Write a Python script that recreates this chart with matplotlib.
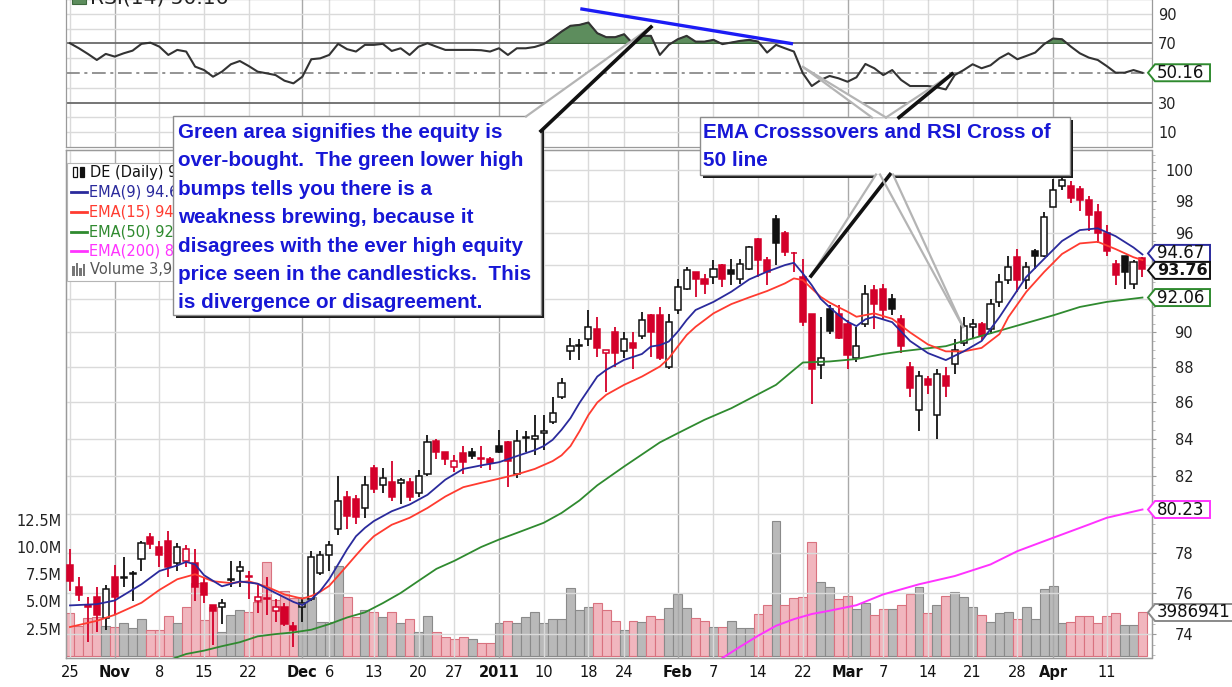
import numpy as np
import matplotlib
matplotlib.use("Agg")
import matplotlib.pyplot as plt
from matplotlib.patches import Rectangle, Polygon
from matplotlib.lines import Line2D
from matplotlib.transforms import Bbox, TransformedBbox
from matplotlib.ticker import FixedLocator, FixedFormatter, NullFormatter

"""
Deere & Co (DE) daily candlesticks with EMA overlays, volume and RSI(14),
annotated with two call-out boxes, redrawn from a StockCharts screenshot.
"""

# =============================================================================
# Data (trading days 25 Oct 2010 .. 15 Apr 2011, index 0 = 25 Oct)
# =============================================================================

TICK_IDX = [0, 5, 10, 15, 20, 26, 29, 34, 39, 43, 48, 53, 58, 62, 68,
            72, 77, 82, 87, 91, 96, 101, 106, 110, 116]
TICK_LABELS = ["25", "Nov", "8", "15", "22", "Dec", "6", "13", "20", "27",
               "2011", "10", "18", "24", "Feb", "7", "14", "22", "Mar", "7",
               "14", "21", "28", "Apr", "11"]
BOLD_LABELS = {"Nov", "Dec", "2011", "Feb", "Mar", "Apr"}

OPEN = [77.4, 76.3, 75.4, 75.8, 74.8, 76.8, 76.75, 76.95, 77.7, 78.8,
        78.3, 78.6, 77.5, 77.6, 77.5, 76.5, 75.4, 75.3, 76.65, 77.1,
        76.85, 75.6, 75.75, 75.1, 75.3, 74.4, 75.3, 75.7, 77.0, 77.9,
        79.2, 80.9, 80.8, 80.3, 82.4, 81.5, 81.7, 81.6, 81.7, 81.1,
        82.1, 83.9, 83.3, 82.5, 83.2, 83.3, 82.95, 82.9, 83.6, 83.8,
        82.1, 84.05, 84.0, 84.3, 84.9, 86.3, 88.9, 89.2, 89.6, 90.2,
        88.8, 90.0, 88.9, 89.4, 89.8, 91.0, 91.0, 88.0, 91.3, 92.6,
        93.6, 93.2, 93.3, 94.0, 93.7, 93.2, 93.8, 95.6, 94.3, 96.9,
        96.0, 94.76, 93.3, 91.1, 88.1, 91.4, 91.1, 90.5, 88.5, 90.5,
        92.5, 92.6, 92.0, 90.8, 88.0, 85.6, 87.3, 85.3, 87.5, 88.2,
        89.4, 90.3, 90.5, 90.2, 91.8, 93.1, 94.5, 93.1, 94.9, 94.6,
        97.6, 99.0, 98.98, 98.8, 98.1, 97.3, 96.0, 94.1, 94.6, 92.9, 94.45]

HIGH = [78.2, 76.8, 75.8, 76.3, 76.4, 77.4, 77.8, 77.1, 78.6, 79.0,
        78.6, 79.1, 78.5, 78.4, 78.2, 76.8, 75.4, 75.7, 77.6, 77.6,
        77.1, 76.4, 76.8, 75.7, 75.5, 74.6, 75.7, 78.1, 78.1, 78.6,
        82.0, 81.2, 81.0, 82.0, 82.6, 82.4, 82.8, 81.9, 81.9, 82.3,
        84.2, 84.0, 83.3, 83.1, 83.6, 83.5, 83.6, 83.0, 84.5, 83.9,
        84.5, 84.4, 85.3, 85.3, 86.3, 87.4, 89.7, 89.6, 91.3, 90.9,
        89.0, 90.3, 90.0, 90.0, 91.2, 91.1, 91.5, 91.1, 93.2, 93.9,
        93.6, 93.5, 94.3, 94.1, 94.4, 94.4, 95.2, 95.7, 94.5, 97.1,
        96.1, 94.8, 94.4, 91.1, 90.9, 91.6, 91.6, 90.7, 90.3, 92.8,
        92.8, 92.9, 92.3, 91.0, 88.3, 87.8, 87.5, 87.9, 88.0, 89.6,
        90.9, 90.8, 90.6, 92.0, 93.5, 94.6, 95.0, 94.2, 95.0, 97.3,
        99.4, 99.6, 99.3, 99.0, 98.3, 97.8, 96.5, 94.3, 94.6, 94.3, 94.5]

LOW = [76.1, 75.6, 73.6, 74.1, 74.2, 74.9, 76.3, 75.6, 77.1, 78.2,
       77.3, 76.8, 77.1, 77.3, 75.6, 75.5, 73.5, 74.5, 76.3, 76.3,
       75.7, 75.0, 74.9, 74.6, 74.4, 73.4, 74.6, 75.6, 76.9, 77.1,
       78.9, 79.2, 79.5, 79.8, 81.1, 81.1, 80.7, 80.5, 80.7, 80.9,
       82.0, 82.9, 82.6, 82.2, 82.1, 82.9, 82.4, 82.3, 83.2, 81.4,
       81.9, 83.3, 83.1, 83.4, 84.8, 86.2, 88.4, 88.4, 89.2, 88.6,
       86.6, 88.0, 88.5, 87.9, 89.6, 88.6, 88.4, 87.9, 91.1, 92.5,
       92.1, 92.3, 92.9, 92.7, 92.8, 92.9, 93.7, 93.3, 92.8, 94.0,
       94.6, 93.6, 90.4, 85.9, 87.3, 89.9, 89.6, 87.9, 88.3, 90.3,
       90.2, 90.8, 91.0, 88.8, 86.3, 84.4, 86.5, 84.0, 86.3, 87.6,
       89.2, 89.7, 89.5, 89.9, 91.5, 92.9, 92.4, 92.6, 93.8, 94.5,
       97.6, 98.7, 97.9, 97.4, 96.1, 95.4, 94.6, 92.8, 92.6, 92.6, 93.3]

CLOSE = [76.6, 75.9, 75.3, 74.9, 76.2, 75.8, 76.8, 77.0, 78.5, 78.45,
         77.9, 77.3, 78.3, 78.2, 76.3, 75.9, 75.1, 75.5, 76.7, 77.3,
         76.8, 75.8, 75.7, 75.3, 74.5, 74.2, 75.5, 77.8, 77.9, 78.4,
         80.7, 79.9, 79.85, 81.5, 81.3, 81.9, 80.9, 81.8, 80.9, 82.0,
         83.8, 83.3, 82.9, 82.8, 82.75, 83.05, 82.9, 82.7, 83.3, 82.8,
         83.9, 84.1, 84.15, 84.4, 85.4, 87.1, 89.2, 89.25, 90.3, 89.1,
         89.0, 88.8, 89.6, 89.1, 90.7, 90.0, 88.5, 90.6, 92.7, 93.7,
         93.2, 92.9, 93.8, 93.2, 93.5, 94.1, 95.1, 94.3, 93.6, 95.4,
         94.8, 94.74, 90.6, 87.9, 88.5, 90.1, 89.7, 88.7, 89.2, 92.3,
         91.7, 91.3, 91.4, 89.2, 86.8, 87.5, 87.0, 87.6, 86.9, 89.0,
         90.4, 90.5, 89.8, 91.7, 93.0, 93.9, 93.1, 93.9, 94.6, 97.0,
         98.7, 99.35, 98.2, 98.1, 97.1, 96.0, 94.9, 93.4, 93.6, 94.2, 93.76]

# volume in millions of shares
VOLUME = [3.94, 2.75, 3.5, 3.6, 2.75, 2.65, 3.0, 2.55, 3.4, 2.4,
          2.4, 3.66, 3.0, 4.5, 6.7, 3.3, 4.5, 2.2, 3.75, 4.2,
          4.0, 4.95, 8.6, 5.1, 6.0, 5.3, 5.4, 5.4, 3.1, 3.1,
          8.2, 5.4, 3.6, 4.2, 4.0, 3.6, 4.0, 3.0, 3.4, 2.2,
          3.66, 2.2, 1.75, 1.55, 1.7, 1.55, 1.2, 1.2, 3.0, 3.2,
          3.0, 3.6, 4.0, 3.0, 3.4, 3.4, 6.2, 4.2, 4.5, 4.85,
          4.2, 3.2, 2.4, 3.2, 3.1, 3.66, 3.35, 4.4, 5.7, 4.4,
          3.5, 3.2, 2.65, 2.65, 3.2, 2.55, 2.55, 3.85, 4.7, 12.4,
          4.7, 5.3, 5.4, 10.4, 6.8, 6.3, 5.2, 5.5, 4.3, 4.9,
          3.75, 4.3, 4.3, 4.7, 5.7, 6.3, 3.95, 4.7, 5.5, 5.85,
          5.4, 4.5, 3.75, 3.1, 3.9, 4.0, 3.4, 4.45, 3.4, 6.1,
          6.4, 3.0, 3.1, 3.65, 3.65, 3.0, 3.65, 3.95, 2.85, 2.85, 3.986941]

RSI = [70.1, 66.7, 62.9, 58.8, 62.9, 61.1, 63.3, 65.1, 69.7, 70.5,
       67.8, 62.2, 65.6, 64.5, 54.3, 52.0, 47.5, 50.9, 55.9, 58.1,
       54.7, 50.9, 49.8, 48.6, 44.8, 43.0, 47.5, 59.3, 59.9, 62.2,
       69.7, 66.1, 64.5, 69.0, 69.0, 69.7, 64.9, 66.7, 62.2, 67.8,
       70.1, 67.8, 65.6, 65.6, 65.6, 65.6, 65.4, 64.5, 66.7, 62.2,
       66.7, 66.7, 67.6, 69.5, 73.5, 78.0, 81.9, 82.5, 84.1, 76.9,
       74.2, 74.2, 76.2, 69.7, 75.1, 75.1, 62.2, 69.0, 72.8, 75.1,
       71.2, 71.2, 72.4, 69.5, 70.6, 71.7, 72.4, 71.2, 63.8, 69.0,
       66.7, 64.5, 49.8, 41.2, 45.3, 48.0, 46.4, 44.1, 47.1, 56.1,
       53.2, 48.6, 52.0, 45.3, 41.2, 41.2, 41.2, 40.3, 38.9, 48.6,
       52.0, 55.9, 53.2, 55.2, 60.0, 63.3, 59.3, 61.5, 63.8, 69.5,
       73.3, 72.8, 67.8, 63.3, 60.4, 58.8, 54.7, 50.2, 50.2, 52.0, 50.16]

EMA9_IDX = [0, 3, 5, 8, 10, 12, 13, 14, 15, 17, 19, 21, 23, 25, 26, 27, 28,
            29, 30, 31, 32, 33, 34, 36, 38, 40, 42, 44, 46, 48, 50, 52, 53,
            54, 55, 56, 57, 58, 59, 60, 62, 64, 65, 66, 67, 68, 69, 70, 72,
            74, 76, 78, 80, 81, 82, 83, 84, 85, 86, 87, 88, 89, 90, 92, 94,
            96, 98, 100, 102, 104, 105, 107, 109, 111, 113, 115, 117, 119, 120]
EMA9 = [75.39, 75.45, 75.63, 76.43, 77.09, 77.37, 77.55, 77.42, 76.88, 76.33,
        76.57, 76.46, 76.0, 75.56, 75.40, 75.69, 76.1, 76.68, 77.42, 78.18,
        78.85, 79.28, 79.63, 80.14, 80.49, 81.0, 81.8, 82.37, 82.56, 82.73,
        83.06, 83.38, 83.6, 83.94, 84.49, 85.13, 85.97, 86.71, 87.46, 87.84,
        88.41, 88.75, 89.18, 89.26, 89.47, 90.04, 90.73, 91.32, 91.8, 92.41,
        93.15, 93.62, 94.02, 94.16, 93.51, 92.8, 91.98, 91.48, 91.02, 90.63,
        90.37, 90.77, 90.92, 90.6, 89.5, 88.8, 88.4, 88.9, 89.5, 90.9,
        91.7, 93.3, 94.4, 95.5, 96.18, 96.29, 95.8, 95.1, 94.67]

EMA15_IDX = [0, 3, 5, 8, 10, 12, 14, 16, 18, 20, 22, 24, 26, 27, 28, 29, 30,
             31, 32, 33, 34, 36, 38, 40, 42, 44, 46, 48, 50, 52, 54, 55, 56,
             57, 58, 59, 60, 62, 64, 66, 67, 68, 69, 70, 72, 74, 76, 78, 80,
             81, 82, 83, 84, 85, 86, 87, 88, 89, 90, 92, 94, 96, 98, 100, 102,
             104, 105, 107, 109, 111, 113, 115, 117, 119, 120]
EMA15 = [74.34, 74.64, 74.93, 75.52, 76.15, 76.68, 76.93, 76.58, 76.49, 76.58,
         76.31, 75.93, 75.72, 75.85, 76.06, 76.35, 76.85, 77.36, 77.88, 78.39,
         78.85, 79.44, 79.8, 80.31, 80.91, 81.4, 81.63, 81.85, 82.08, 82.37,
         82.79, 83.1, 83.6, 84.4, 85.3, 86.0, 86.43, 86.99, 87.46, 88.03,
         88.5, 89.18, 89.85, 90.33, 91.12, 91.67, 92.07, 92.45, 92.91, 93.21,
         93.11, 92.6, 92.1, 91.76, 91.48, 91.22, 90.92, 91.02, 91.12, 90.8,
         90.0, 89.3, 88.9, 88.9, 89.1, 89.9, 90.9, 92.4, 93.6, 94.7,
         95.35, 95.45, 95.0, 94.5, 94.33]

EMA50_IDX = [10, 13, 15, 17, 19, 21, 23, 25, 27, 29, 31, 33, 35, 37, 39, 41,
             43, 46, 48, 50, 53, 55, 57, 59, 62, 66, 68, 71, 74, 76, 79, 81,
             82, 85, 88, 91, 93, 98, 102, 106, 110, 113, 116, 120]
EMA50 = [72.6, 73.05, 73.21, 73.42, 73.61, 73.89, 74.0, 74.08, 74.21, 74.48,
         74.8, 75.05, 75.5, 76.0, 76.6, 77.2, 77.6, 78.3, 78.68, 79.02,
         79.54, 80.05, 80.7, 81.5, 82.5, 83.8, 84.3, 85.04, 85.68, 86.2,
         86.99, 87.84, 88.26, 88.32, 88.46, 88.75, 88.9, 89.2, 89.8, 90.4,
         91.0, 91.5, 91.8, 92.06]

EMA200_IDX = [72, 73, 75, 77, 79, 81, 83, 85, 88, 91, 95, 99, 103, 106, 110,
              114, 116, 120]
EMA200 = [72.6, 72.86, 73.4, 73.92, 74.4, 74.72, 74.97, 75.13, 75.40, 75.93,
          76.43, 76.84, 77.42, 78.09, 78.77, 79.45, 79.8, 80.23]

# hand-drawn trend line on the RSI panel (bar index, RSI value)
TREND_IDX = [57.1, 80.9]
TREND_RSI = [93.4, 69.7]

NOTE_LEFT = ["Green area signifies the equity is",
             "over-bought.  The green lower high",
             "bumps tells you there is a",
             "weakness brewing, because it",
             "disagrees with the ever high equity",
             "price seen in the candlesticks.  This",
             "is divergence or disagreement."]
NOTE_RIGHT = ["EMA Crosssovers and RSI Cross of",
              "50 line"]

# =============================================================================
# Style
# =============================================================================

W, H, DPI = 1232, 687, 100
PLOT_LEFT, PLOT_RIGHT = 65.5, 1151.5      # pixel edges of the plot area
PRICE_TOP, PRICE_BOTTOM = 150, 658
RSI_TOP, RSI_BOTTOM = -1, 147
NOTE_LEFT_BOX = (173, 116, 541, 315)
NOTE_RIGHT_BOX = (700, 117, 1070, 175)

RED = "#d4002a"
BLACK = "#111111"
PINK, PINK_EDGE = "#f1b6be", "#d9727f"
GRAY, GRAY_EDGE = "#b9b9b9", "#8a8a8a"
C_EMA9 = "#2a2a9c"
C_EMA15 = "#ff3b30"
C_EMA50 = "#2f8a2f"
C_EMA200 = "#ff33ff"
GRID_LIGHT = "#dadada"
GRID_DARK = "#a9a9a9"
NOTE_BLUE = "#1717d6"
BODY_W = 0.68
TAG_HALF = 8.5

# axis labels hidden behind the value tags
HIDDEN_PRICE_LABELS = {80, 92, 94}

plt.rcParams["font.family"] = ["DejaVu Sans"]


def fx(px):
    return px / W


def fy(py):
    return 1.0 - py / H


def add_rect_px(fig, x0, y0, x1, y1, **kw):
    patch = Rectangle((fx(x0), fy(y1)), fx(x1) - fx(x0), fy(y0) - fy(y1),
                      transform=fig.transFigure, **kw)
    fig.add_artist(patch)
    return patch


def add_poly_px(fig, pts, **kw):
    patch = Polygon([(fx(x), fy(y)) for x, y in pts], closed=True,
                    transform=fig.transFigure, **kw)
    fig.add_artist(patch)
    return patch


def add_line_px(fig, pts, **kw):
    line = Line2D([fx(x) for x, _ in pts], [fy(y) for _, y in pts],
                  transform=fig.transFigure, **kw)
    fig.add_artist(line)
    return line


# =============================================================================
# Panels
# =============================================================================

def make_axes(fig):
    width = fx(PLOT_RIGHT) - fx(PLOT_LEFT)
    price_rect = [fx(PLOT_LEFT), fy(PRICE_BOTTOM), width,
                  fy(PRICE_TOP) - fy(PRICE_BOTTOM)]
    rsi_rect = [fx(PLOT_LEFT), fy(RSI_BOTTOM), width,
                fy(RSI_TOP) - fy(RSI_BOTTOM)]

    ax_vol = fig.add_axes(price_rect)
    ax = fig.add_axes(price_rect, sharex=ax_vol)
    ax.patch.set_visible(False)
    ax_rsi = fig.add_axes(rsi_rect, sharex=ax_vol)

    # pixel x = 70 + 8.937 * bar index
    x_left = (PLOT_LEFT - 70) / 8.937
    x_right = (PLOT_RIGHT - 70) / 8.937
    ax_vol.set_xlim(x_left, x_right)

    for a in (ax_vol, ax, ax_rsi):
        for spine in a.spines.values():
            spine.set_color("#9a9a9a")
            spine.set_linewidth(0.9)

    return ax_vol, ax, ax_rsi


def draw_grid(ax, ax_rsi):
    for pos, label in zip(TICK_IDX, TICK_LABELS):
        color = GRID_DARK if label in BOLD_LABELS else GRID_LIGHT
        for a in (ax, ax_rsi):
            a.axvline(pos, color=color, lw=1.0, zorder=0.5)

    for level in range(74, 101, 2):
        ax.axhline(level, color=GRID_LIGHT, lw=1.0, zorder=0.5)

    for level in range(10, 100, 10):
        if level in (30, 70):
            ax_rsi.axhline(level, color="#6a6a6a", lw=1.3, zorder=1)
        elif level == 50:
            ax_rsi.axhline(level, color="#777777", lw=1.1,
                           linestyle=(0, (9, 3, 2, 3)), zorder=1)
        else:
            ax_rsi.axhline(level, color=GRID_LIGHT, lw=1.0, zorder=0.5)


def draw_candles(ax):
    o, h, l, c = (np.asarray(v) for v in (OPEN, HIGH, LOW, CLOSE))
    x = np.arange(len(c))
    prev = np.r_[o[0], c[:-1]]
    down = c < prev
    colors = np.where(down, RED, BLACK)

    ax.vlines(x, l, h, colors=colors, lw=1.3, zorder=3)
    for xi, oi, ci, col in zip(x, o, c, colors):
        lo, hi = min(oi, ci), max(oi, ci)
        face = "white" if ci >= oi else col
        ax.add_patch(Rectangle((xi - BODY_W / 2, lo), BODY_W,
                               max(hi - lo, 0.03), facecolor=face,
                               edgecolor=col, lw=1.1, zorder=3.5))
    return down


def draw_volume(ax_vol, down):
    x = np.arange(len(VOLUME))
    ax_vol.bar(x, VOLUME, width=1.0,
               color=np.where(down, PINK, GRAY),
               edgecolor=np.where(down, PINK_EDGE, GRAY_EDGE),
               lw=0.8, zorder=2)
    ax_vol.set_ylim(-0.18, 46.34)
    ax_vol.set_yticks([2.5, 5.0, 7.5, 10.0, 12.5])
    ax_vol.set_yticklabels(["2.5M", "5.0M", "7.5M", "10.0M", "12.5M"])
    ax_vol.tick_params(axis="y", length=0, pad=3, labelsize=10.5,
                       labelcolor="#222222")
    ax_vol.tick_params(axis="x", bottom=False, labelbottom=False)


def draw_price(ax):
    ax.set_yscale("log")
    ax.set_ylim(72.86, 101.31)
    ticks = list(range(74, 101, 2))
    labels = ["" if t in HIDDEN_PRICE_LABELS else str(t) for t in ticks]
    ax.yaxis.set_major_locator(FixedLocator(ticks))
    ax.yaxis.set_major_formatter(FixedFormatter(labels))
    ax.yaxis.set_minor_locator(FixedLocator(np.arange(73, 101.5, 0.5)))
    ax.yaxis.set_minor_formatter(NullFormatter())
    ax.yaxis.tick_right()
    ax.tick_params(axis="y", which="major", length=3, color="#9a9a9a",
                   pad=27, labelsize=10.5, labelcolor="#222222")
    ax.tick_params(axis="y", which="minor", length=2, color="#b0b0b0")
    for label in ax.get_yticklabels():
        label.set_horizontalalignment("right")

    ax.set_xticks(TICK_IDX)
    ax.set_xticklabels(TICK_LABELS)
    ax.tick_params(axis="x", length=0, pad=5, labelsize=10.5,
                   labelcolor="#111111")
    for label in ax.get_xticklabels():
        if label.get_text() in BOLD_LABELS:
            label.set_fontweight("bold")

    ax.plot(EMA200_IDX, EMA200, color=C_EMA200, lw=1.4, zorder=4)
    ax.plot(EMA50_IDX, EMA50, color=C_EMA50, lw=1.3, zorder=4)
    ax.plot(EMA15_IDX, EMA15, color=C_EMA15, lw=1.3, zorder=4)
    ax.plot(EMA9_IDX, EMA9, color=C_EMA9, lw=1.3, zorder=4)


def draw_rsi(ax_rsi):
    x = np.arange(len(RSI))
    rsi = np.asarray(RSI)
    ax_rsi.set_ylim(0, 100)
    ax_rsi.fill_between(x, 70, rsi, where=rsi >= 70, interpolate=True,
                        facecolor="#5d8d5d", edgecolor="#3e6a3e", lw=0.8,
                        zorder=2)
    ax_rsi.plot(x, rsi, color="#333333", lw=1.5, zorder=3)
    ax_rsi.plot(TREND_IDX, TREND_RSI, color="#1c1cf5", lw=2.4,
                solid_capstyle="butt", zorder=4)

    # the 50 label sits behind the RSI value tag
    ax_rsi.yaxis.tick_right()
    ax_rsi.set_yticks([10, 30, 70, 90])
    ax_rsi.tick_params(axis="y", length=0, pad=4.7, labelsize=10.5,
                       labelcolor="#222222")
    ax_rsi.tick_params(axis="x", bottom=False, labelbottom=False)


# =============================================================================
# Legends, value tags and call-outs
# =============================================================================

def draw_legends(fig):
    # price legend box, its right part hidden behind the left call-out
    visible = TransformedBbox(
        Bbox([[fx(PLOT_LEFT), 0.0], [fx(NOTE_LEFT_BOX[0]), 1.0]]),
        fig.transFigure)

    add_rect_px(fig, PLOT_LEFT + 1, 163, 300, 281, facecolor="white",
                edgecolor="#b5b5b5", lw=0.8, zorder=2)

    # candle glyph
    add_rect_px(fig, 73, 167, 77, 177, facecolor="white", edgecolor=BLACK,
                lw=0.9, zorder=2.1)
    add_rect_px(fig, 80, 167, 84, 177, facecolor=BLACK, edgecolor=BLACK,
                lw=0.9, zorder=2.1)

    entries = [
        (f"DE (Daily) {CLOSE[-1]:.2f}", "#111111", None, 172),
        (f"EMA(9) {EMA9[-1]:.2f}", C_EMA9, C_EMA9, 192),
        (f"EMA(15) {EMA15[-1]:.2f}", C_EMA15, C_EMA15, 212),
        (f"EMA(50) {EMA50[-1]:.2f}", C_EMA50, C_EMA50, 232),
        (f"EMA(200) {EMA200[-1]:.2f}", C_EMA200, C_EMA200, 251),
        (f"Volume {int(round(VOLUME[-1] * 1e6)):,}", "#555555", None, 270),
    ]
    for text, color, line_color, y in entries:
        if line_color is not None:
            add_line_px(fig, [(71, y), (87, y)], color=line_color, lw=2.0,
                        zorder=2.1)
        t = fig.text(fx(89 if line_color else 90), fy(y), text, color=color,
                     fontsize=10.5, va="center", ha="left", zorder=2.2)
        t.set_clip_box(visible)
        t.set_clip_on(True)

    # volume glyph
    for i, top in enumerate([266, 263, 268, 264]):
        add_rect_px(fig, 72 + i * 3.5, top, 74.5 + i * 3.5, 276,
                    facecolor="#777777", edgecolor="none", zorder=2.1)

    # RSI legend, cut by the top edge as in the screenshot
    add_rect_px(fig, 72, -6, 86, 4, facecolor="#5d8d5d", edgecolor="#3e6a3e",
                lw=0.8, zorder=2)
    fig.text(fx(90), fy(4), f"RSI(14) {RSI[-1]:.2f}", fontsize=14.5,
             color="#222222", va="baseline", ha="left", zorder=2)


def value_to_px(fig, ax, value):
    y_disp = ax.transData.transform((0, value))[1]
    return H - y_disp * H / fig.bbox.height


def spread_tags(tags):
    """Push neighbouring price tags apart so that they do not overlap."""
    tags = sorted(tags, key=lambda t: t[0])
    for _ in range(5):
        for i in range(len(tags) - 1):
            gap = tags[i + 1][0] - tags[i][0]
            if gap < 2 * TAG_HALF:
                shift = (2 * TAG_HALF - gap) / 2
                tags[i] = (tags[i][0] - shift,) + tags[i][1:]
                tags[i + 1] = (tags[i + 1][0] + shift,) + tags[i + 1][1:]
    return tags


def draw_tag(fig, py, text, edge, bold=False, right=1210):
    pts = [(1148, py), (1155, py - TAG_HALF), (right, py - TAG_HALF),
           (right, py + TAG_HALF), (1155, py + TAG_HALF)]
    add_poly_px(fig, pts, facecolor="white", edgecolor=edge, lw=1.4,
                zorder=5)
    fig.text(fx(1157), fy(py), text, fontsize=11.5 if bold else 12,
             color="#111111", fontweight="bold" if bold else "normal",
             va="center", ha="left", zorder=5.1)


def draw_tags(fig, ax, ax_vol, ax_rsi):
    draw_tag(fig, value_to_px(fig, ax_rsi, RSI[-1]), f"{RSI[-1]:.2f}",
             C_EMA50)

    price_tags = [
        (value_to_px(fig, ax, EMA9[-1]), f"{EMA9[-1]:.2f}", C_EMA9, False),
        (value_to_px(fig, ax, CLOSE[-1]), f"{CLOSE[-1]:.2f}", BLACK, True),
        (value_to_px(fig, ax, EMA50[-1]), f"{EMA50[-1]:.2f}", C_EMA50, False),
        (value_to_px(fig, ax, EMA200[-1]), f"{EMA200[-1]:.2f}", C_EMA200,
         False),
    ]
    for py, text, edge, bold in spread_tags(price_tags):
        draw_tag(fig, py, text, edge, bold=bold)

    draw_tag(fig, value_to_px(fig, ax_vol, VOLUME[-1]),
             f"{int(round(VOLUME[-1] * 1e6))}", "#8a8a8a", right=1250)


def draw_tail(fig, base_a, base_b, apex, dark_side=True):
    add_poly_px(fig, [base_a, apex, base_b], facecolor="white",
                edgecolor="none", zorder=6)
    add_line_px(fig, [base_a, apex], color="#b4b4b4", lw=1.6, zorder=6.1)
    add_line_px(fig, [base_b, apex], color="#111111" if dark_side else "#b4b4b4",
                lw=2.6 if dark_side else 1.6, zorder=6.1)


def draw_box(fig, x0, y0, x1, y1):
    add_rect_px(fig, x0 + 3, y0 + 3, x1 + 3, y1 + 3, facecolor="#1a1a1a",
                edgecolor="none", zorder=5.8)
    add_rect_px(fig, x0, y0, x1, y1, facecolor="white", edgecolor="#8c8c8c",
                lw=1.0, zorder=5.9)


def draw_callouts(fig):
    # left note
    draw_box(fig, *NOTE_LEFT_BOX)
    draw_tail(fig, (526, 116.5), (541, 131), (651, 27))
    for i, line in enumerate(NOTE_LEFT):
        fig.text(fx(178), fy(132.5 + i * 28.4), line, color=NOTE_BLUE,
                 fontsize=14.9, fontweight="bold", family="Liberation Sans",
                 va="center", ha="left", zorder=7)

    # right note
    draw_box(fig, *NOTE_RIGHT_BOX)
    draw_tail(fig, (886, 117.5), (872, 117.5), (803, 67), dark_side=False)
    draw_tail(fig, (886, 117.5), (899, 117.5), (952, 74))
    draw_tail(fig, (876, 174.5), (890, 174.5), (811, 276))
    draw_tail(fig, (880, 174.5), (893, 174.5), (963, 327), dark_side=False)
    for i, line in enumerate(NOTE_RIGHT):
        fig.text(fx(703), fy(132 + i * 28.4), line, color=NOTE_BLUE,
                 fontsize=14.9, fontweight="bold", family="Liberation Sans",
                 va="center", ha="left", zorder=7)


# =============================================================================
# Main
# =============================================================================

def main():
    fig = plt.figure(figsize=(W / DPI, H / DPI), dpi=DPI)
    fig.patch.set_facecolor("white")

    ax_vol, ax, ax_rsi = make_axes(fig)
    draw_grid(ax, ax_rsi)
    down = draw_candles(ax)
    draw_volume(ax_vol, down)
    draw_price(ax)
    draw_rsi(ax_rsi)

    draw_legends(fig)
    draw_tags(fig, ax, ax_vol, ax_rsi)
    draw_callouts(fig)

    fig.savefig("out.png", dpi=DPI)


if __name__ == "__main__":
    main()
